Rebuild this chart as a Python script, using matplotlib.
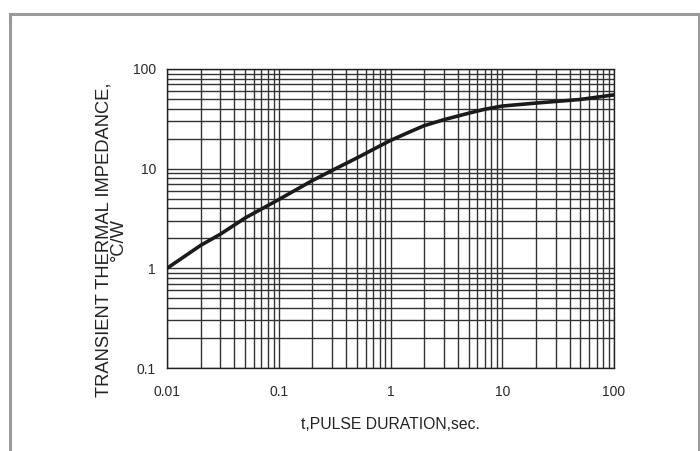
import matplotlib
matplotlib.use("Agg")
import matplotlib.pyplot as plt
from matplotlib.lines import Line2D
from matplotlib.ticker import LogLocator, NullFormatter, FixedLocator, FixedFormatter

plt.rcParams['font.family'] = ['Liberation Sans', 'DejaVu Sans']

t_sec = [0.01, 0.02, 0.03, 0.05, 0.1, 0.2, 0.3, 0.5, 0.7, 1, 1.5, 2, 3, 5, 7, 10, 20, 50, 100]
z_cw = [1.0, 1.7, 2.2, 3.2, 4.9, 7.6, 9.6, 12.8, 15.6, 19.2, 23.5, 27, 31, 36, 39.5, 42.5, 45.5, 49.5, 55]

x_ticks = [0.01, 0.1, 1, 10, 100]
x_labels = ["0.01", "0.1", "1", "10", "100"]
y_ticks = [0.1, 1, 10, 100]
y_labels = ["0.1", "1", "10", "100"]

W, H = 700, 451
fig = plt.figure(figsize=(W / 100, H / 100), dpi=100)
ax = fig.add_axes([167 / W, 1 - 368 / H, (614 - 167) / W, (368 - 69) / H])

ax.set_xscale('log')
ax.set_yscale('log')
ax.set_xlim(0.01, 100)
ax.set_ylim(0.1, 100)

ax.xaxis.set_major_locator(FixedLocator(x_ticks))
ax.xaxis.set_major_formatter(FixedFormatter(x_labels))
ax.yaxis.set_major_locator(FixedLocator(y_ticks))
ax.yaxis.set_major_formatter(FixedFormatter(y_labels))
ax.xaxis.set_minor_locator(LogLocator(base=10, subs=range(2, 10), numticks=20))
ax.yaxis.set_minor_locator(LogLocator(base=10, subs=range(2, 10), numticks=20))
ax.xaxis.set_minor_formatter(NullFormatter())
ax.yaxis.set_minor_formatter(NullFormatter())

ax.grid(True, which='both', color='#333333', linewidth=1.0)
ax.tick_params(which='both', length=0, labelsize=10, colors='#2a2a2a')
ax.tick_params(axis='x', pad=12)
ax.tick_params(axis='y', pad=8)
for s in ax.spines.values():
    s.set_color('#222222')
    s.set_linewidth(1.0)

ax.plot(t_sec, z_cw, color='#1a1a1a', linewidth=2.6, solid_capstyle='round',
        solid_joinstyle='round', zorder=5)

ax.set_xlabel("t,PULSE DURATION,sec.", fontsize=11.3, color='#222222', labelpad=13)
fig.text(111 / W, 1 - 239.5 / H, "TRANSIENT THERMAL IMPEDANCE,\n°C/W", rotation=90,
         ha='center', va='center', fontsize=13.2, color='#222222',
         multialignment='center', linespacing=0.76)

# grey outer frame
fc = '#9a9a9a'
fig.add_artist(Line2D([10 / W, 10 / W], [0, 1 - 14 / H], transform=fig.transFigure, color=fc, linewidth=2.2))
fig.add_artist(Line2D([10 / W, 699 / W], [1 - 14 / H, 1 - 14 / H], transform=fig.transFigure, color=fc, linewidth=2.2))
fig.add_artist(Line2D([699 / W, 699 / W], [0, 1 - 14 / H], transform=fig.transFigure, color=fc, linewidth=2.2))

fig.savefig("out.png", dpi=100)
